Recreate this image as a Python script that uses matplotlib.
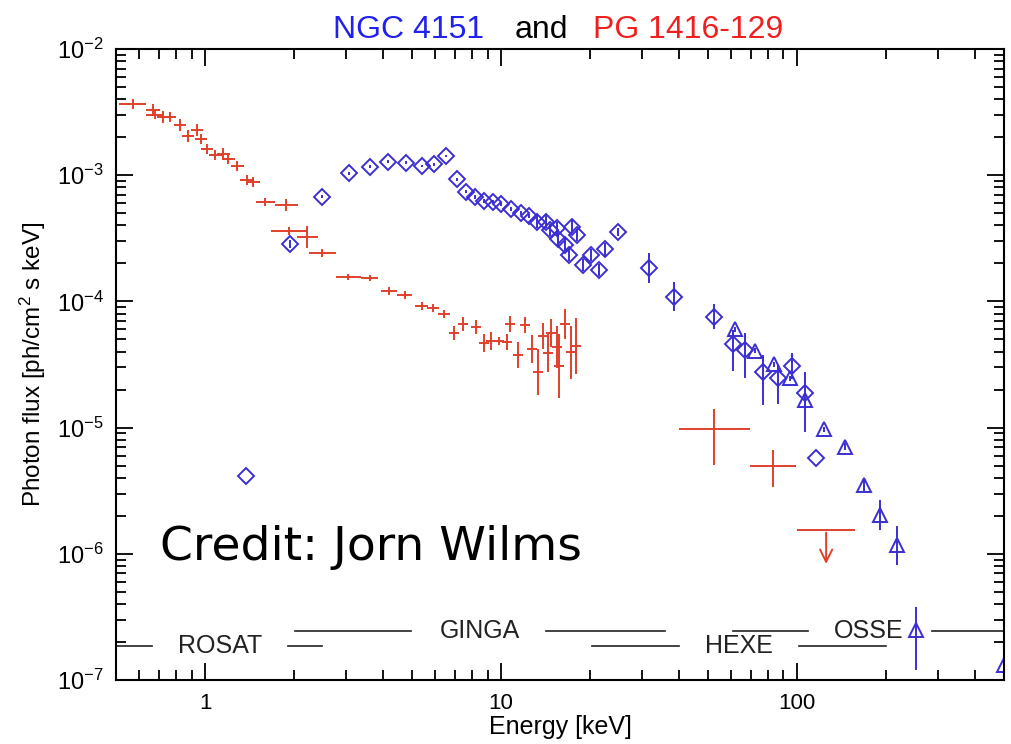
import numpy as np
import matplotlib
matplotlib.use('Agg')
import matplotlib.pyplot as plt
from matplotlib.ticker import FuncFormatter, NullFormatter, LogLocator

plt.rcParams['font.family'] = ['Liberation Sans', 'DejaVu Sans']
plt.rcParams['mathtext.fontset'] = 'custom'
plt.rcParams['mathtext.rm'] = 'Liberation Sans'
plt.rcParams['mathtext.it'] = 'Liberation Sans:italic'

# PG 1416-129, ROSAT band (energy keV, flux, half-widths in dex)
ros_e = [0.570, 0.667, 0.677, 0.721, 0.761, 0.823, 0.876, 0.939, 0.969, 1.016,
         1.081, 1.151, 1.197, 1.284, 1.388, 1.455, 1.597, 1.882]
ros_f = [3.66e-3, 3.29e-3, 3.0e-3, 2.89e-3, 2.89e-3, 2.50e-3, 2.05e-3, 2.28e-3, 1.94e-3, 1.61e-3,
         1.45e-3, 1.47e-3, 1.34e-3, 1.18e-3, 9.17e-4, 8.83e-4, 6.13e-4, 5.81e-4]
ros_dx = [0.045, 0.025, 0.03, 0.022, 0.022, 0.02, 0.02, 0.02, 0.02, 0.02,
          0.022, 0.022, 0.022, 0.022, 0.024, 0.022, 0.032, 0.038]
ros_dy = [0.04, 0.045, 0.035, 0.045, 0.04, 0.045, 0.045, 0.045, 0.04, 0.04,
          0.04, 0.045, 0.04, 0.04, 0.04, 0.04, 0.03, 0.045]

# PG 1416-129, GINGA band
gin_e = [1.927, 2.218, 2.492, 3.05, 3.60, 4.17, 4.73, 5.40, 5.88, 6.41,
         6.93, 7.43, 8.23, 8.76, 9.25, 9.84, 10.48, 10.73, 11.42, 12.06,
         12.74, 13.35, 13.88, 14.43, 14.77, 15.49, 15.73, 16.48, 17.27, 17.96]
gin_f = [3.61e-4, 3.24e-4, 2.42e-4, 1.56e-4, 1.53e-4, 1.21e-4, 1.12e-4, 9.2e-5, 8.87e-5, 7.94e-5,
         5.62e-5, 6.62e-5, 6.27e-5, 4.68e-5, 4.85e-5, 4.85e-5, 4.77e-5, 6.62e-5, 3.76e-5, 6.50e-5,
         4.20e-5, 2.76e-5, 5.32e-5, 3.90e-5, 5.62e-5, 4.35e-5, 3.08e-5, 6.62e-5, 3.97e-5, 4.43e-5]
gin_dx = [0.063, 0.034, 0.046, 0.041, 0.029, 0.027, 0.025, 0.022, 0.02, 0.02,
          0.017, 0.017, 0.017, 0.017, 0.017, 0.017, 0.017, 0.017, 0.017, 0.017,
          0.017, 0.017, 0.017, 0.017, 0.017, 0.017, 0.017, 0.017, 0.017, 0.017]
gin_dy = [0.035, 0.085, 0.03, 0.025, 0.025, 0.03, 0.03, 0.035, 0.035, 0.035,
          0.055, 0.055, 0.055, 0.07, 0.07, 0.03, 0.065, 0.065, 0.10, 0.065,
          0.11, 0.18, 0.10, 0.15, 0.11, 0.17, 0.25, 0.12, 0.21, 0.22]

# PG 1416-129, HEXE band
hx_e = [52.6, 82.7]
hx_f = [9.75e-6, 4.99e-6]
hx_dx = [0.12, 0.078]
hx_dlo = [0.285, 0.168]
hx_dhi = [0.158, 0.125]
ul_e = [125.4]
ul_f = [1.55e-6]
ul_dx = [0.098]
ul_arrow = [7.9e-7]

# NGC 4151 (diamonds)
ngc_e = [1.377, 1.93, 2.49, 3.06, 3.61, 4.16, 4.79, 5.39, 5.94, 6.54,
         7.10, 7.61, 8.18, 8.78, 9.37, 10.0, 10.8, 11.7, 12.4, 13.2,
         14.2, 14.6, 15.4, 15.6, 16.4, 17.0, 17.4, 18.0, 18.9, 20.2,
         21.4, 22.5, 24.9, 31.5, 38.3, 52.6, 60.7, 66.8, 76.7, 86.0,
         96.2, 106.2, 116.2]
ngc_f = [4.14e-6, 2.85e-4, 6.76e-4, 1.035e-3, 1.17e-3, 1.28e-3, 1.26e-3, 1.18e-3, 1.22e-3, 1.42e-3,
         9.28e-4, 7.40e-4, 6.76e-4, 6.28e-4, 6.10e-4, 5.88e-4, 5.37e-4, 5.05e-4, 4.75e-4, 4.28e-4,
         4.28e-4, 3.68e-4, 3.79e-4, 3.10e-4, 2.80e-4, 2.33e-4, 3.91e-4, 3.36e-4, 1.94e-4, 2.33e-4,
         1.77e-4, 2.59e-4, 3.56e-4, 1.84e-4, 1.09e-4, 7.57e-5, 4.59e-5, 4.12e-5, 2.74e-5, 2.46e-5,
         3.08e-5, 1.89e-5, 5.71e-6]
ngc_dlo = [0.0, 0.035, 0.01, 0.01, 0.01, 0.01, 0.01, 0.01, 0.01, 0.01,
           0.01, 0.01, 0.015, 0.015, 0.015, 0.015, 0.015, 0.015, 0.015, 0.05,
           0.05, 0.05, 0.05, 0.05, 0.05, 0.05, 0.05, 0.05, 0.05, 0.05,
           0.05, 0.05, 0.03, 0.12, 0.115, 0.10, 0.21, 0.22, 0.26, 0.20,
           0.10, 0.31, 0.0]
ngc_dhi = [0.0, 0.035, 0.01, 0.01, 0.01, 0.01, 0.01, 0.01, 0.01, 0.01,
           0.01, 0.01, 0.015, 0.015, 0.015, 0.015, 0.015, 0.015, 0.015, 0.05,
           0.05, 0.05, 0.05, 0.05, 0.05, 0.05, 0.05, 0.05, 0.05, 0.05,
           0.05, 0.05, 0.03, 0.12, 0.115, 0.10, 0.11, 0.135, 0.135, 0.105,
           0.10, 0.165, 0.0]

# NGC 4151, OSSE (triangles)
osse_e = [61.5, 72.2, 83.8, 94.9, 106.2, 123.2, 145.2, 168.3, 190.1, 218.3, 251.8, 500.0]
osse_f = [6.01e-5, 4.07e-5, 3.17e-5, 2.46e-5, 1.66e-5, 9.7e-6, 7.06e-6, 3.51e-6, 2.03e-6, 1.17e-6, 2.49e-7, 1.31e-7]
osse_dlo = [0.02, 0.02, 0.02, 0.02, 0.02, 0.02, 0.03, 0.05, 0.12, 0.16, 0.317, 0.3]
osse_dhi = [0.02, 0.02, 0.02, 0.02, 0.02, 0.02, 0.03, 0.05, 0.12, 0.15, 0.185, 0.25]

# instrument bands along the bottom
inst_names = ['ROSAT', 'GINGA', 'HEXE', 'OSSE']
inst_label_e = [1.12, 8.5, 63.8, 174.6]
inst_level = [1.86e-7, 2.44e-7, 1.86e-7, 2.44e-7]
inst_segments = [[(0.5, 0.66), (1.9, 2.48)],
                 [(2.02, 4.95), (14.2, 35.7)],
                 [(20.3, 39.8), (101.6, 200.3)],
                 [(60.7, 108.9), (285.0, 500.0)]]

RED = '#e0402a'
BLUE = '#3a2fd2'


def dex_err(vals, lo, hi):
    # turn log-space half widths into absolute error arrays
    v = np.asarray(vals)
    return [v * (1 - 10 ** -np.asarray(lo)), v * (10 ** np.asarray(hi) - 1)]


fig = plt.figure(figsize=(10.11, 7.44), dpi=100)
ax = fig.add_axes([0.1147, 0.086, 0.8783, 0.8481])
ax.set_xscale('log')
ax.set_yscale('log')
ax.set_xlim(0.5, 500)
ax.set_ylim(1e-7, 1e-2)

# red source
ax.errorbar(ros_e, ros_f, xerr=dex_err(ros_e, ros_dx, ros_dx), yerr=dex_err(ros_f, ros_dy, ros_dy),
            fmt='none', ecolor=RED, elinewidth=1.4)
ax.errorbar(gin_e, gin_f, xerr=dex_err(gin_e, gin_dx, gin_dx), yerr=dex_err(gin_f, gin_dy, gin_dy),
            fmt='none', ecolor=RED, elinewidth=1.4)
ax.errorbar(hx_e, hx_f, xerr=dex_err(hx_e, hx_dx, hx_dx), yerr=dex_err(hx_f, hx_dlo, hx_dhi),
            fmt='none', ecolor=RED, elinewidth=1.4)
ax.errorbar(ul_e, ul_f, xerr=dex_err(ul_e, ul_dx, ul_dx), fmt='none', ecolor=RED, elinewidth=1.4)
for e, f, a in zip(ul_e, ul_f, ul_arrow):
    ax.annotate('', xy=(e, a), xytext=(e, f),
                arrowprops=dict(arrowstyle='->', color=RED, lw=1.4, mutation_scale=22))

# blue source
ax.errorbar(ngc_e, ngc_f, yerr=dex_err(ngc_f, ngc_dlo, ngc_dhi), fmt='D', ms=8,
            mfc='none', mec=BLUE, mew=1.4, ecolor=BLUE, elinewidth=1.4)
ax.errorbar(osse_e, osse_f, yerr=dex_err(osse_f, osse_dlo, osse_dhi), fmt='^', ms=10,
            mfc='none', mec=BLUE, mew=1.4, ecolor=BLUE, elinewidth=1.4)

# instrument bands
for name, le, lv, segs in zip(inst_names, inst_label_e, inst_level, inst_segments):
    for a, b in segs:
        ax.plot([a, b], [lv, lv], color='#222222', lw=1.2)
    ax.text(le, lv, name, ha='center', va='center', fontsize=18, color='#222222')

ax.text(0.0495, 0.19, 'Credit: Jorn Wilms', transform=ax.transAxes, fontsize=34,
        family='DejaVu Sans', va='baseline', ha='left')

# ticks, IDL style
ax.xaxis.set_major_formatter(FuncFormatter(lambda v, p: f'{v:g}'))
ax.xaxis.set_minor_formatter(NullFormatter())
ax.yaxis.set_minor_locator(LogLocator(subs=np.arange(2, 10)))
ax.yaxis.set_minor_formatter(NullFormatter())
ax.tick_params(which='both', direction='in', top=True, right=True, width=1.3)
ax.tick_params(which='major', length=12)
ax.tick_params(which='minor', length=7)
ax.tick_params(axis='x', pad=9, labelsize=16)
ax.tick_params(axis='y', pad=9, labelsize=17)
for s in ax.spines.values():
    s.set_linewidth(1.5)

ax.set_xlabel('Energy [keV]', fontsize=18)
ax.xaxis.set_label_coords(0.5, -0.056)
fig.text(0.033, 0.51, 'Photon flux [ph/cm$^2$ s keV]', rotation=90, ha='center', va='center', fontsize=17.5)

# title in three colours
fig.text(0.4787, 0.949, 'NGC 4151', color='#2020f0', fontsize=23, ha='right', va='baseline')
fig.text(0.5356, 0.949, 'and', color='black', fontsize=23, ha='center', va='baseline')
fig.text(0.5865, 0.949, 'PG 1416-129', color='#f02020', fontsize=23, ha='left', va='baseline')

fig.savefig('out.png', dpi=100)
